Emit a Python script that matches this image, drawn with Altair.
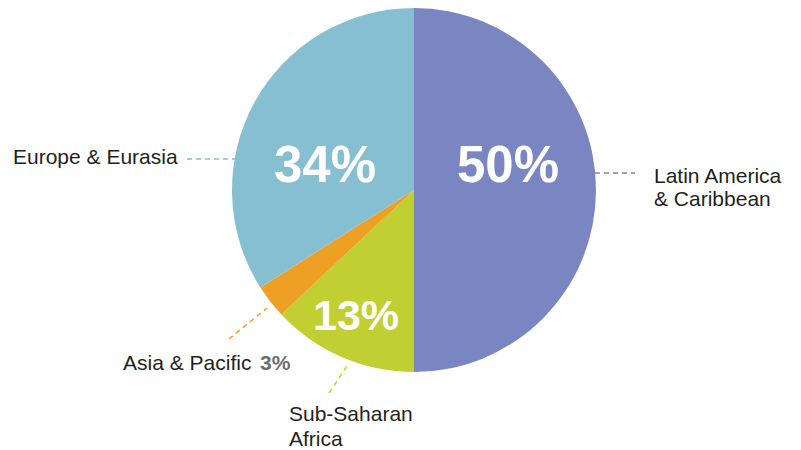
import altair as alt
import pandas as pd

categories = ["Latin America & Caribbean", "Sub-Saharan Africa", "Asia & Pacific", "Europe & Eurasia"]
values = [50, 13, 3, 34]
colors = ["#7a86c2", "#c2cf32", "#eda024", "#87bfd2"]

df = pd.DataFrame({"category": categories, "value": values, "order": list(range(len(categories)))})

FONT = "Liberation Sans"
CX, CY, R = 406, 182, 182

pie = alt.Chart(df).mark_arc(radius=R, stroke=None).encode(
    theta=alt.Theta("value:Q", stack=True),
    color=alt.Color("category:N", scale=alt.Scale(domain=categories, range=colors), legend=None),
    order=alt.Order("order:Q"),
    x=alt.value(CX),
    y=alt.value(CY),
)

base = alt.Chart(pd.DataFrame({"a": [0]}))

def txt(s, x, y, size=21, bold=False, color="#231f20", align="left"):
    return base.mark_text(
        font=FONT, fontSize=size, fontWeight="bold" if bold else "normal",
        color=color, align=align, baseline="alphabetic"
    ).encode(x=alt.value(x), y=alt.value(y), text=alt.value(s))

def rule(x1, y1, x2, y2, color):
    return base.mark_rule(color=color, strokeWidth=1.5, strokeDash=[5, 4]).encode(
        x=alt.value(x1), y=alt.value(y1), x2=alt.value(x2), y2=alt.value(y2)
    )

layers = [pie]
# inside percentages
layers.append(txt(f"{values[0]}%", 500, 174, size=51, bold=True, color="white", align="center"))
layers.append(txt(f"{values[3]}%", 317, 174, size=51, bold=True, color="white", align="center"))
layers.append(txt(f"{values[1]}%", 348, 322, size=43, bold=True, color="white", align="center"))

# outer labels
layers.append(txt("Europe & Eurasia", 5, 156))
layers.append(txt("Latin America", 646, 175))
layers.append(txt("& Caribbean", 646, 198))
layers.append(txt("Asia & Pacific", 115, 362))
layers.append(txt(f"{values[2]}%", 252, 362, bold=True, color="#6d6e71"))
layers.append(txt("Sub-Saharan", 281, 413))
layers.append(txt("Africa", 281, 438))

# leader lines
layers.append(rule(179, 151, 227, 151, colors[3]))
layers.append(rule(587, 165, 627, 165, colors[0]))
layers.append(rule(221, 331, 259, 300, colors[2]))
layers.append(rule(321, 385, 341, 355, colors[1]))

chart = alt.layer(*layers).properties(width=785, height=434, padding=0).configure_view(stroke=None)

chart.save("out.html", embed_options={"renderer": "svg", "actions": False})
